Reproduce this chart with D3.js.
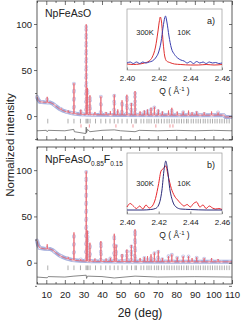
<!DOCTYPE html>
<html>
<head>
<meta charset="utf-8">
<script src="https://cdn.jsdelivr.net/npm/d3@7"></script>
<style>
body{margin:0;background:#fff;}
text{font-family:"Liberation Sans",Arial,sans-serif;fill:#222;}
</style>
</head>
<body>
<div id="chart"></div>
<script>
// values
const xTicks = [10,20,30,40,50,60,70,80,90,100,110];
const yTicks = [0,50,100];
const qTicks = [2.40,2.42,2.44,2.46];

// panel a) NpFeAsO : background [2theta, I] and peaks [2theta, height above background]
const bgA = [[5,21],[5.6,18],[6.5,15.5],[9,15],[12,14.8],[13.5,13.5],[15,11],[17,8],[19,6],[21,4.5],[24,3],[28,2],[35,1.5],[50,1.2],[80,1],[105.5,1],[106.5,-1],[110,-1]];
const peaksA = [[10.5,6],[18,1.5],[21.8,2],[24.9,33],[28.6,5],[31.5,98],[32.2,29],[33.5,21],[36.2,3],[39.4,20],[42.2,3],[44.5,4],[46.6,22],[48.5,6],[50.8,16],[53.4,22],[55.8,13],[57.8,26],[60.5,4],[62.8,5],[64.5,6],[66.4,8],[68.2,9],[70.3,6],[72.5,4],[75.8,5],[77.6,8],[80.5,4],[83.7,4],[86.6,5],[88.5,3],[91,4],[95,3],[99,4],[102.5,3]];
const hklA = [10.8,21.7,24.9,28.4,31.4,32,32.5,33.6,36.5,39.4,42,44.3,46.6,48.6,50.8,53.5,55.9,57.8,58.5,61,62.5,64.2,65.3,66.5,68.2,69.5,70.5,72,73.5,75,76.2,77.6,78.9,80.3,81.5,82.8,84.1,85.5,86.4,88,89.2,90.6,91.8,93,94.5,95.6,97,98.3,99.5,100.8,102,103.4,104.6,105.9,107.2,108.5];
const hklImpA = [28.7,33.2,47.5,56.7,69,76.6,78.2];
const diffA = [[5,0],[10,0.5],[10.5,-1],[11,0.5],[20,0],[24.8,1.5],[25.1,-1],[31.3,-3],[31.5,4],[31.7,-2],[32.2,1.5],[33.5,-1],[40,0.5],[46.6,1],[50,0],[57.8,-1],[60,0.5],[70,0],[80,0.5],[90,0],[100,0.5],[110,0]];

// panel b) NpFeAsO0.85F0.15
const bgB = [[5,24],[5.6,19],[6.5,16],[9,15],[12,14.8],[13.5,13.5],[15,11],[17,8],[19,6],[21,4.5],[24,3],[28,2],[35,1.5],[50,1.2],[80,1],[110,1]];
const peaksB = [[10.5,5],[21.8,2],[24.9,30],[28.6,2],[31.5,97],[32.2,33],[33.5,20],[36.2,3],[39.4,22],[42.2,3],[44.5,4],[46.6,30],[47.6,18],[50.8,8],[53.4,13],[55.8,18],[57.8,35],[60.5,4],[62.8,5],[64.5,6],[66.4,8],[68.2,10],[70.3,12],[72.5,4],[75.8,6],[77.6,8],[80.5,5],[83.7,6],[86.6,6],[88.5,4],[91,5],[95,4],[99,4],[102.5,3]];
const hklB = hklA;
const diffB = [[5,0],[10.5,-0.8],[11,0.5],[20,0],[24.9,1],[31.5,2],[31.7,-1.5],[32.2,1],[40,0.5],[46.6,-1],[57.8,1],[70,0],[90,0.4],[110,0]];

// insets: [Q, normalised intensity]
const inA300 = [[2.400,0.06],[2.404,0.05],[2.408,0.06],[2.411,0.08],[2.414,0.12],[2.416,0.2],[2.418,0.4],[2.4195,0.7],[2.4205,0.93],[2.421,1.0],[2.4218,0.9],[2.4228,0.5],[2.4238,0.22],[2.425,0.12],[2.427,0.09],[2.43,0.06],[2.434,0.05],[2.44,0.04],[2.445,0.04],[2.45,0.05],[2.455,0.04],[2.46,0.05]];
const inA10 = [[2.400,0.08],[2.402,0.1],[2.404,0.07],[2.406,0.1],[2.408,0.07],[2.41,0.1],[2.412,0.08],[2.414,0.1],[2.416,0.12],[2.418,0.18],[2.42,0.3],[2.4215,0.5],[2.4228,0.8],[2.4238,0.98],[2.4243,1.02],[2.4252,0.9],[2.4265,0.62],[2.428,0.38],[2.43,0.25],[2.432,0.18],[2.434,0.14],[2.436,0.12],[2.438,0.08],[2.44,0.11],[2.442,0.07],[2.444,0.11],[2.446,0.08],[2.448,0.1],[2.45,0.07],[2.452,0.1],[2.454,0.08],[2.456,0.09],[2.458,0.07],[2.46,0.08]];
const inB300 = [[2.400,0.08],[2.402,0.15],[2.404,0.1],[2.406,0.05],[2.408,0.1],[2.41,0.04],[2.412,0.12],[2.414,0.06],[2.416,0.1],[2.418,0.25],[2.42,0.55],[2.4215,0.8],[2.423,0.85],[2.4245,0.9],[2.426,0.7],[2.428,0.45],[2.43,0.3],[2.432,0.22],[2.434,0.15],[2.436,0.1],[2.438,0.13],[2.44,0.08],[2.442,0.15],[2.444,0.18],[2.446,0.08],[2.448,0.12],[2.45,0.05],[2.452,0.1],[2.454,0.06],[2.456,0.04],[2.458,0.05],[2.46,0.03]];
const inB10 = [[2.400,0.02],[2.41,0.02],[2.415,0.03],[2.418,0.05],[2.42,0.12],[2.422,0.4],[2.4235,0.85],[2.4245,1.0],[2.4255,0.85],[2.427,0.45],[2.429,0.18],[2.431,0.08],[2.434,0.04],[2.44,0.03],[2.45,0.02],[2.46,0.02]];

const width = 241, height = 320;
const svg = d3.select('#chart').append('svg')
  .attr('width', width).attr('height', height);

const x = d3.scaleLinear().domain([5, 110]).range([37, 232]);

const panels = [
  {top: 1, bottom: 140, dom: [-26, 125], bg: bgA, peaks: peaksA, hkl: hklA, imp: hklImpA, diff: diffA, diffOff: -16,
   inset: {top: 9, bottom: 70, c300: inA300, c10: inA10, col300: '#e0302f', col10: '#3b3fb0', tag: 'a)', lblY: 35}},
  {top: 147, bottom: 284, dom: [-23, 125], bg: bgB, peaks: peaksB, hkl: hklB, imp: [], diff: diffB, diffOff: -15.5,
   inset: {top: 153, bottom: 214, c300: inB300, c10: inB10, col300: '#e8262c', col10: '#2b2b7a', tag: 'b)', lblY: 186}}
];

// pattern line = background with each reflection as a narrow spike
function profile(bg, peaks) {
  const bgAt = d3.scaleLinear().domain(bg.map(d => d[0])).range(bg.map(d => d[1]));
  let pts = bg.slice();
  peaks.forEach(p => {
    const b = bgAt(p[0]);
    pts.push([p[0] - 0.17, bgAt(p[0] - 0.17)], [p[0], b + p[1]], [p[0] + 0.17, bgAt(p[0] + 0.17)]);
  });
  return pts.sort((a, b) => a[0] - b[0]);
}

panels.forEach((p, i) => {
  const y = d3.scaleLinear().domain(p.dom).range([p.bottom, p.top]);
  const g = svg.append('g');
  const line = d3.line().x(d => x(d[0])).y(d => y(d[1]));
  const prof = profile(p.bg, p.peaks);

  // observed: lavender band + sparse open circles
  g.append('path').attr('d', line(p.bg)).attr('fill', 'none')
    .attr('stroke', '#a7b1de').attr('stroke-width', 4);
  g.append('path').attr('d', line(prof)).attr('fill', 'none')
    .attr('stroke', '#c3c2e4').attr('stroke-width', 3.8)
    .attr('stroke-linecap', 'round').attr('stroke-dasharray', '0 8');
  g.append('path').attr('d', line(prof)).attr('fill', 'none')
    .attr('stroke', '#f3f2fa').attr('stroke-width', 2.2)
    .attr('stroke-linecap', 'round').attr('stroke-dasharray', '0 8');
  // calculated
  g.append('path').attr('d', line(prof)).attr('fill', 'none')
    .attr('stroke', '#e9616b').attr('stroke-width', 0.8);

  // reflection markers
  g.selectAll('.hkl').data(p.hkl).enter().append('line')
    .attr('x1', d => x(d)).attr('x2', d => x(d))
    .attr('y1', y(-3)).attr('y2', y(-8))
    .attr('stroke', '#777').attr('stroke-width', 0.6);
  g.selectAll('.imp').data(p.imp).enter().append('line')
    .attr('x1', d => x(d)).attr('x2', d => x(d))
    .attr('y1', y(-9)).attr('y2', y(-12.5))
    .attr('stroke', '#e8505a').attr('stroke-width', 0.6);

  // difference
  g.append('path').attr('d', d3.line().x(d => x(d[0])).y(d => y(d[1] + p.diffOff))(p.diff))
    .attr('fill', 'none').attr('stroke', '#555').attr('stroke-width', 0.7);

  // frame and ticks
  g.append('rect').attr('x', x.range()[0]).attr('y', p.top)
    .attr('width', x.range()[1] - x.range()[0]).attr('height', p.bottom - p.top)
    .attr('fill', 'none').attr('stroke', '#333').attr('stroke-width', 0.8);

  const minorX = d3.range(5, 111, 5).filter(v => v % 10);
  const bottomAx = d3.axisBottom(x).tickValues(xTicks).tickSize(-4).tickPadding(7)
    .tickFormat(i === 1 ? d3.format('d') : '');
  g.append('g').attr('transform', `translate(0,${p.bottom})`).call(bottomAx)
    .call(a => a.select('.domain').remove())
    .call(a => a.selectAll('text').attr('font-size', 9.5).style('font-family', '"Liberation Sans",Arial,sans-serif'));
  g.append('g').attr('transform', `translate(0,${p.bottom})`)
    .call(d3.axisBottom(x).tickValues(minorX).tickSize(-2).tickFormat(''))
    .call(a => a.select('.domain').remove());
  g.append('g').attr('transform', `translate(0,${p.top})`)
    .call(d3.axisTop(x).tickValues(xTicks).tickSize(-4).tickFormat(''))
    .call(a => a.select('.domain').remove());
  g.append('g').attr('transform', `translate(0,${p.top})`)
    .call(d3.axisTop(x).tickValues(minorX).tickSize(-2).tickFormat(''))
    .call(a => a.select('.domain').remove());

  g.append('g').attr('transform', `translate(${x.range()[0]},0)`)
    .call(d3.axisLeft(y).tickValues(yTicks).tickSize(3).tickPadding(2))
    .call(a => a.select('.domain').remove())
    .call(a => a.selectAll('text').attr('font-size', 9.5).style('font-family', '"Liberation Sans",Arial,sans-serif'));
  g.append('g').attr('transform', `translate(${x.range()[0]},0)`)
    .call(d3.axisLeft(y).tickValues([-25, 25, 75]).tickSize(2).tickFormat(''))
    .call(a => a.select('.domain').remove());
  g.append('g').attr('transform', `translate(${x.range()[1]},0)`)
    .call(d3.axisRight(y).tickValues([-25, 0, 25, 50, 75, 100]).tickSize(-3).tickFormat(''))
    .call(a => a.select('.domain').remove());
  g.selectAll('.tick line').attr('stroke', '#333').attr('stroke-width', 0.7);

  // inset
  const ins = p.inset;
  const qx = d3.scaleLinear().domain([2.40, 2.46]).range([127, 222]);
  const qy = d3.scaleLinear().domain([0, 1]).range([ins.bottom - 3, ins.top + 8]);
  const ig = svg.append('g');
  ig.append('rect').attr('x', 127).attr('y', ins.top).attr('width', 95).attr('height', ins.bottom - ins.top)
    .attr('fill', '#fff').attr('stroke', '#999').attr('stroke-width', 0.7);
  const qline = d3.line().x(d => qx(d[0])).y(d => qy(d[1])).curve(d3.curveMonotoneX);
  ig.append('path').attr('d', qline(ins.c300)).attr('fill', 'none').attr('stroke', ins.col300).attr('stroke-width', 1);
  ig.append('path').attr('d', qline(ins.c10)).attr('fill', 'none').attr('stroke', ins.col10).attr('stroke-width', 1);
  ig.append('g').attr('transform', `translate(0,${ins.bottom})`)
    .call(d3.axisBottom(qx).tickValues(qTicks).tickSize(-2.5).tickPadding(5).tickFormat(d3.format('.2f')))
    .call(a => a.select('.domain').remove())
    .call(a => a.selectAll('line').attr('stroke', '#888'))
    .call(a => a.selectAll('text').attr('font-size', 8).style('font-family', '"Liberation Sans",Arial,sans-serif'));
  const ql = ig.append('text').attr('x', 174.5).attr('y', ins.bottom + 24).attr('text-anchor', 'middle').attr('font-size', 8.5);
  ql.append('tspan').text('Q ( Å');
  ql.append('tspan').attr('dy', -3).attr('font-size', 6).text('-1');
  ql.append('tspan').attr('dy', 3).text(' )');
  ig.append('text').attr('x', 145).attr('y', ins.lblY).attr('text-anchor', 'middle').attr('font-size', 7.5).text('300K');
  ig.append('text').attr('x', 184).attr('y', ins.lblY).attr('text-anchor', 'middle').attr('font-size', 7.5).text('10K');
  ig.append('text').attr('x', 207).attr('y', ins.top + 15).attr('font-size', 9).text(ins.tag);
});

// sample names
svg.append('text').attr('x', 45).attr('y', 17).attr('font-size', 10.5).text('NpFeAsO');
const nb = svg.append('text').attr('x', 45).attr('y', 163).attr('font-size', 10.5);
nb.append('tspan').text('NpFeAsO');
nb.append('tspan').attr('dy', 3).attr('font-size', 6.5).text('0.85');
nb.append('tspan').attr('dy', -3).text('F');
nb.append('tspan').attr('dy', 3).attr('font-size', 6.5).text('0.15');

svg.append('text').attr('transform', 'translate(14,145) rotate(-90)')
  .attr('text-anchor', 'middle').attr('font-size', 11.5).text('Normalized intensity');
svg.append('text').attr('x', 140).attr('y', 317).attr('text-anchor', 'middle')
  .attr('font-size', 12).text('2θ (deg)');
</script>
</body>
</html>
